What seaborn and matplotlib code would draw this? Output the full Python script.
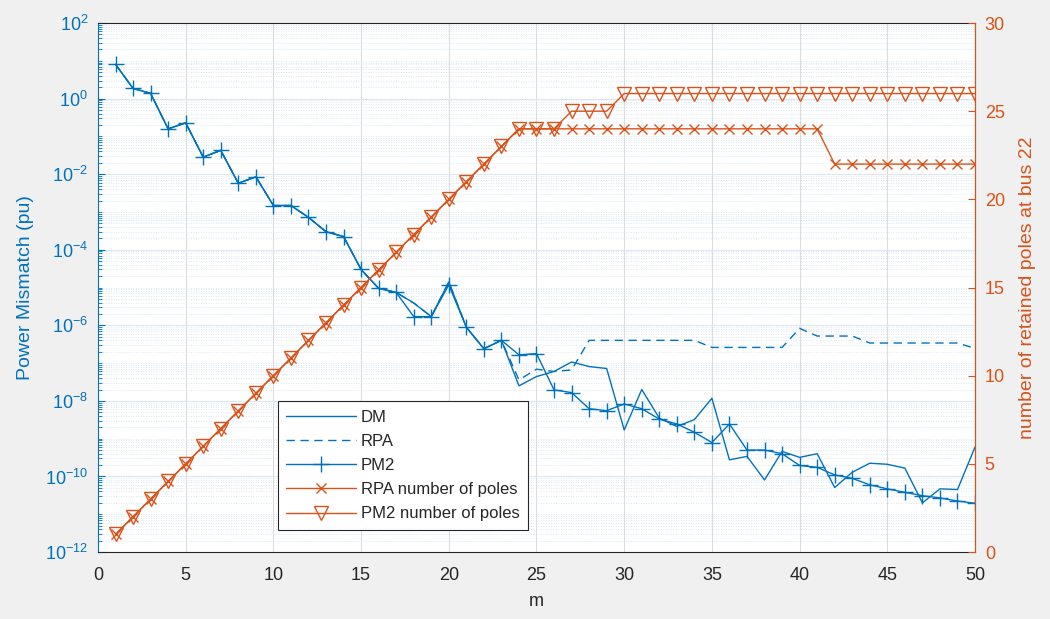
import numpy as np
import pandas as pd
import matplotlib
matplotlib.use("Agg")
import matplotlib.pyplot as plt
import seaborn as sns
from matplotlib.ticker import LogLocator, FixedLocator, NullFormatter

# --- data ---
m = list(range(1, 51))

pm2 = [8.07, 1.86, 1.38, 0.158, 0.229, 0.0282, 0.0427, 5.75e-3, 8.5e-3, 1.48e-3,
       1.48e-3, 7.2e-4, 3.0e-4, 2.24e-4, 3.0e-5, 9.5e-6, 7.4e-6, 1.7e-6, 1.7e-6, 1.17e-5,
       8.9e-7, 2.4e-7, 4.0e-7, 1.66e-7, 1.78e-7, 1.95e-8, 1.66e-8, 6.2e-9, 5.5e-9, 8.3e-9,
       6.2e-9, 3.3e-9, 2.45e-9, 1.48e-9, 7.9e-10, 2.45e-9, 5.0e-10, 5.0e-10, 4.0e-10, 1.95e-10,
       1.74e-10, 1.1e-10, 8.9e-11, 6.0e-11, 4.7e-11, 3.8e-11, 3.1e-11, 2.7e-11, 2.24e-11, 1.95e-11]

dm = [8.07, 1.86, 1.38, 0.158, 0.229, 0.0282, 0.0427, 5.75e-3, 8.5e-3, 1.48e-3,
      1.48e-3, 7.2e-4, 3.0e-4, 2.24e-4, 3.0e-5, 9.5e-6, 7.4e-6, 3.9e-6, 1.7e-6, 1.4e-5,
      8.9e-7, 2.4e-7, 4.0e-7, 2.5e-8, 4.4e-8, 6.0e-8, 1.07e-7, 8.1e-8, 7.2e-8, 1.7e-9,
      2.0e-8, 3.5e-9, 2.1e-9, 3.2e-9, 1.17e-8, 2.75e-10, 3.4e-10, 8.1e-11, 4.6e-10, 3.2e-10,
      4.0e-10, 5.1e-11, 1.29e-10, 2.24e-10, 2.1e-10, 1.66e-10, 2.0e-11, 4.7e-11, 4.5e-11, 6.0e-10]

rpa = [8.07, 1.86, 1.38, 0.158, 0.229, 0.0282, 0.0427, 5.75e-3, 8.5e-3, 1.48e-3,
       1.48e-3, 7.2e-4, 3.0e-4, 2.24e-4, 3.0e-5, 9.5e-6, 7.4e-6, 3.9e-6, 1.7e-6, 1.4e-5,
       8.9e-7, 2.4e-7, 4.0e-7, 3.6e-8, 6.9e-8, 6.0e-8, 6.6e-8, 4.0e-7, 4.0e-7, 4.0e-7,
       4.0e-7, 4.0e-7, 4.0e-7, 4.0e-7, 2.6e-7, 2.6e-7, 2.6e-7, 2.6e-7, 2.6e-7, 8.3e-7,
       5.2e-7, 5.2e-7, 5.2e-7, 3.4e-7, 3.4e-7, 3.4e-7, 3.4e-7, 3.4e-7, 3.4e-7, 2.45e-7]

rpa_poles = [1, 2, 3, 4, 5, 6, 7, 8, 9, 10, 11, 12, 13, 14, 15, 16, 17, 18, 19, 20,
             21, 22, 23, 24, 24, 24, 24, 24, 24, 24, 24, 24, 24, 24, 24, 24, 24, 24, 24, 24,
             24, 22, 22, 22, 22, 22, 22, 22, 22, 22]

pm2_poles = [1, 2, 3, 4, 5, 6, 7, 8, 9, 10, 11, 12, 13, 14, 15, 16, 17, 18, 19, 20,
             21, 22, 23, 24, 24, 24, 25, 25, 25, 26, 26, 26, 26, 26, 26, 26, 26, 26, 26, 26,
             26, 26, 26, 26, 26, 26, 26, 26, 26, 26]

blue = "#0072BD"
orange = "#D95319"

sns.set_style("white")
plt.rcParams['font.family'] = ['Liberation Sans', 'DejaVu Sans']
plt.rcParams['mathtext.fontset'] = 'custom'
plt.rcParams['mathtext.rm'] = 'Liberation Sans'

fig = plt.figure(figsize=(10.5, 6.19), dpi=100, facecolor="#f0f0f0")
ax = fig.add_axes([0.0933, 0.1082, 0.8353, 0.8546])
ax.set_facecolor("white")

sns.lineplot(x=m, y=dm, ax=ax, color=blue, linewidth=1.0, label="DM")
sns.lineplot(x=m, y=rpa, ax=ax, color=blue, linewidth=1.0, linestyle=(0, (6, 4)), label="RPA")
sns.lineplot(x=m, y=pm2, ax=ax, color=blue, linewidth=1.0, marker="+", markersize=11,
             markeredgecolor=blue, markeredgewidth=1.0, label="PM2")
ax.set_yscale("log")
ax.set_ylim(1e-12, 1e2)
ax.set_xlim(0, 50)
ax.yaxis.set_major_locator(FixedLocator([10.0 ** k for k in range(-12, 3, 2)]))
ax.yaxis.set_minor_locator(LogLocator(base=10, subs=np.arange(1, 10), numticks=40))
ax.yaxis.set_minor_formatter(NullFormatter())

ax.set_xticks(range(0, 51, 5))
ax.grid(True, which="major", axis="x", color="#dcdcdc", linewidth=0.8)
ax.grid(True, which="major", axis="y", color="#dbe8f3", linewidth=0.8)
ax.grid(True, which="minor", axis="y", color="#cfe2f1", linewidth=0.6, linestyle=(0, (1, 2)))
ax.set_axisbelow(True)

ax.set_xlabel("m", fontsize=13, color="#262626", labelpad=6)
ax.set_ylabel("Power Mismatch (pu)", fontsize=14, color=blue, labelpad=8)
ax.tick_params(axis="x", direction="in", colors="#262626", labelsize=13, length=5, pad=11)
ax.tick_params(axis="y", which="both", direction="in", colors=blue, labelsize=13, pad=7)
ax.tick_params(axis="y", which="major", length=5)
ax.tick_params(axis="y", which="minor", length=3)
ax.spines["left"].set_color(blue)
ax.spines["bottom"].set_color("#262626")
ax.spines["top"].set_color("#262626")
for s in ax.spines.values():
    s.set_linewidth(0.8)

ax2 = ax.twinx()
sns.lineplot(x=m, y=rpa_poles, ax=ax2, color=orange, linewidth=1.0, marker="x", markersize=7,
             markeredgecolor=orange, markeredgewidth=1.0, label="RPA number of poles")
sns.lineplot(x=m, y=pm2_poles, ax=ax2, color=orange, linewidth=1.0, marker="v", markersize=10,
             markerfacecolor="none", markeredgecolor=orange, markeredgewidth=1.0,
             label="PM2 number of poles")
ax2.set_ylim(0, 30)
ax2.set_yticks(range(0, 31, 5))
ax2.set_ylabel("number of retained poles at bus 22", fontsize=14, color=orange, labelpad=10)
ax2.tick_params(axis="y", direction="in", colors=orange, labelsize=13, length=5, pad=7)
ax2.spines["right"].set_color(orange)
ax2.spines["left"].set_visible(False)
ax2.spines["top"].set_visible(False)
ax2.spines["bottom"].set_visible(False)
ax2.spines["right"].set_linewidth(0.8)

h1, l1 = ax.get_legend_handles_labels()
h2, l2 = ax2.get_legend_handles_labels()
ax.get_legend().remove()
ax2.get_legend().remove()
leg = ax2.legend(h1 + h2, l1 + l2, loc="lower left", bbox_to_anchor=(0.205, 0.042),
                 fontsize=12, frameon=True, fancybox=False, framealpha=1,
                 edgecolor="#262626", handlelength=4.2, borderpad=0.5, labelspacing=0.55,
                 handletextpad=0.3, borderaxespad=0)
leg.get_frame().set_linewidth(0.8)

fig.savefig("out.png", dpi=100, facecolor=fig.get_facecolor())
